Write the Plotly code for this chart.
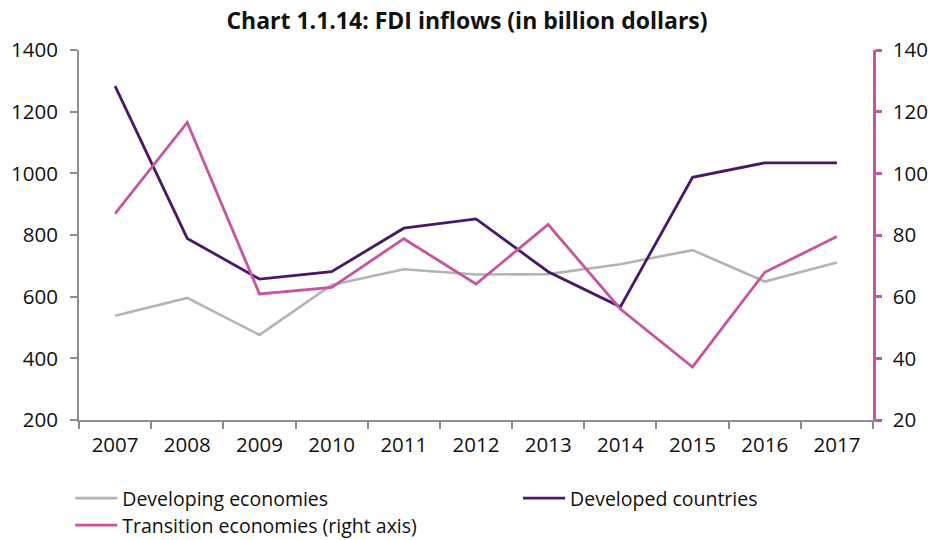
import plotly.graph_objects as go

years = ["2007", "2008", "2009", "2010", "2011", "2012", "2013", "2014", "2015", "2016", "2017"]
developing = [538, 596, 476, 638, 689, 672, 673, 705, 751, 649, 711]
developed = [1283, 789, 657, 681, 822, 852, 681, 567, 987, 1034, 1034]
transition = [86.9, 116.5, 60.9, 63.0, 78.8, 64.1, 83.4, 56.0, 37.2, 67.9, 79.5]

left_ticks = [200, 400, 600, 800, 1000, 1200, 1400]
right_ticks = [20, 40, 60, 80, 100, 120, 140]

GRAY = "#b4b4b4"
PURPLE = "#4a176c"
PINK = "#c8559f"
AXIS = "#8e8e8e"
FAMILY = "Open Sans, Noto Sans, sans-serif"
TICK_FONT = dict(family=FAMILY, size=20.5, color="#111111")
LEGEND_FONT = dict(family=FAMILY, size=19.5, color="#111111")

fig = go.Figure()
fig.add_trace(go.Scatter(x=years, y=developing, name="Developing economies", mode="lines",
                         line=dict(color=GRAY, width=2.6), legend="legend"))
fig.add_trace(go.Scatter(x=years, y=developed, name="Developed countries", mode="lines",
                         line=dict(color=PURPLE, width=2.8), legend="legend3"))
fig.add_trace(go.Scatter(x=years, y=transition, name="Transition economies (right axis)", mode="lines",
                         line=dict(color=PINK, width=2.8), yaxis="y2", legend="legend2"))

legend_common = dict(orientation="h", xanchor="left", yanchor="middle", font=LEGEND_FONT,
                     bgcolor="rgba(0,0,0,0)", itemwidth=42)

fig.update_layout(
    width=931, height=540,
    margin=dict(l=79, r=58, t=50, b=120, autoexpand=False),
    paper_bgcolor="white", plot_bgcolor="white",
    title=dict(text="<b>Chart 1.1.14: FDI inflows (in billion dollars)</b>",
               x=0.5016, xanchor="center", y=0.962, yanchor="middle",
               font=dict(family=FAMILY, size=23, color="#111111")),
    xaxis=dict(type="category", range=[-0.5, 10.5], tickson="boundaries",
               showline=True, linecolor=AXIS, linewidth=2, showgrid=False, zeroline=False,
               ticks="outside", ticklen=7, tickwidth=2, tickcolor=AXIS,
               tickfont=TICK_FONT, ticklabelstandoff=5, automargin=False),
    yaxis=dict(range=[200, 1400], tickvals=left_ticks, showline=True, linecolor=AXIS, linewidth=2,
               showgrid=False, zeroline=False, ticks="outside", ticklen=7, tickwidth=2,
               tickcolor=AXIS, tickfont=TICK_FONT, ticklabelstandoff=8, automargin=False),
    yaxis2=dict(range=[20, 140], tickvals=right_ticks, overlaying="y", side="right",
                showline=True, linecolor=PINK, linewidth=2.5, showgrid=False, zeroline=False,
                ticks="outside", ticklen=6, tickwidth=2.5, tickcolor=PINK,
                tickfont=TICK_FONT, ticklabelstandoff=7, automargin=False),
    legend=dict(**legend_common, x=-0.011, y=-0.212),
    legend3=dict(**legend_common, x=0.553, y=-0.212),
    legend2=dict(**legend_common, x=-0.011, y=-0.285),
    showlegend=True,
)

fig.write_html("out.html")
